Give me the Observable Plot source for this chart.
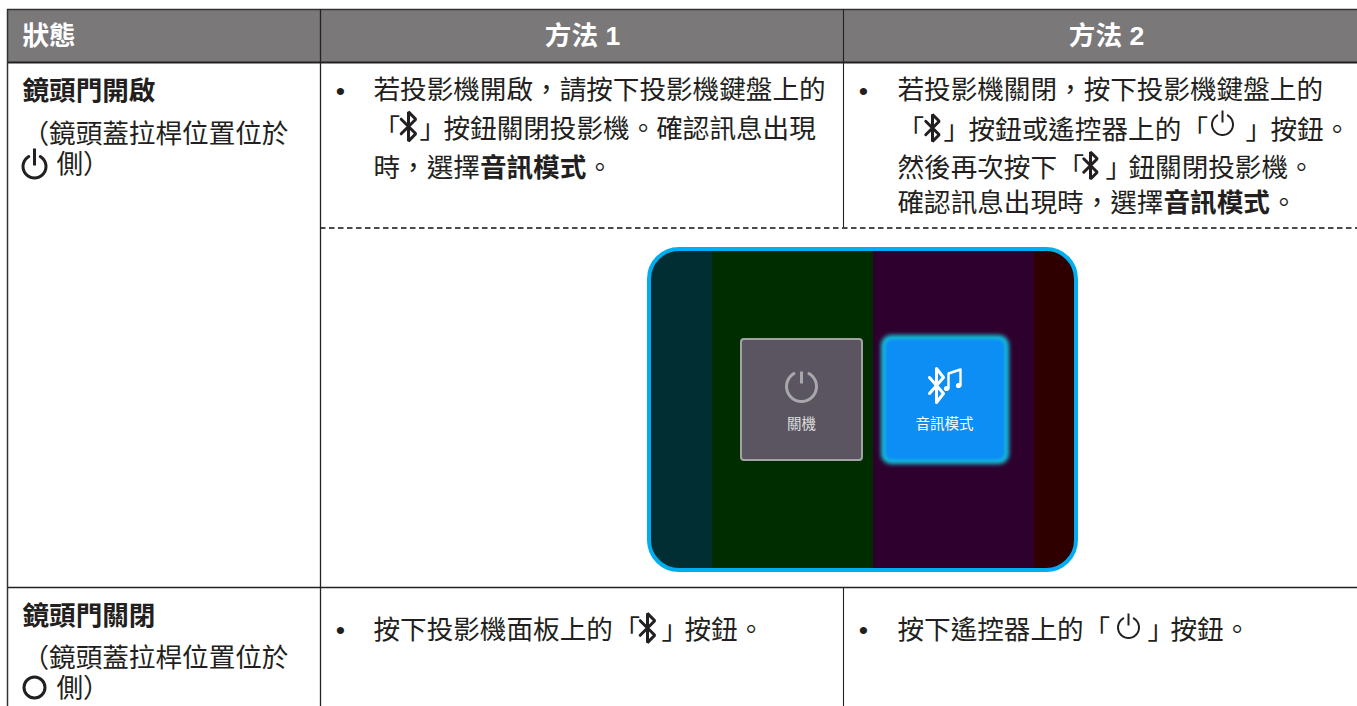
<!DOCTYPE html>
<html lang="zh-TW">
<head>
<meta charset="utf-8">
<style>html,body{margin:0;padding:0;background:#fff;overflow:hidden}svg{display:block}</style>
<script src="https://cdn.jsdelivr.net/npm/d3@7"></script>
<script src="https://cdn.jsdelivr.net/npm/@observablehq/plot@0.6"></script>
</head>
<body>
<script>
// ---- content ----
const headerLabels = ["狀態", "方法 1", "方法 2"];
const rowTitles = ["鏡頭門開啟", "鏡頭門關閉"];
const rowNote = ["（鏡頭蓋拉桿位置位於", "側）"];
const method1Open = ["若投影機開啟，請按下投影機鍵盤上的", "「", "」", "按鈕關閉投影機。確認訊息出現", "時，選擇", "音訊模式", "。"];
const method2Open = ["若投影機關閉，按下投影機鍵盤上的", "「", "」", "按鈕或遙控器上的", "「", "」", "按鈕。", "然後再次按下", "「", "」", "鈕關閉投影機。", "確認訊息出現時，選擇", "音訊模式", "。"];
const method1Closed = ["按下投影機面板上的", "「", "」", "按鈕。"];
const method2Closed = ["按下遙控器上的", "「", "」", "按鈕。"];
const buttonLabels = ["關機", "音訊模式"];
const boldTexts = ["音訊模式"];
const bulletMark = "•";
const screenColors = ["#012e33", "#002d00", "#2e002e", "#2e0000"];

// ---- layout (page pixels; separate from the content) ----
const W = 1357, H = 706, FS = 26.6;
const headerAt = [[22, 36, "start"], [582, 36, "middle"], [1106, 36, "middle"]];
const titleAt = [[22, 91], [22, 616]];
const noteAt = [[[22, 134], [56, 164]], [[22, 658], [56, 688]]];
const m1OpenAt = [[373, 90], [373, 129], [419, 129], [443, 129], [373, 167.5], [479.4, 167.5], [586, 167.5]];
const m2OpenAt = [[897, 90], [897, 130], [943, 130], [968, 130], [1181, 130], [1245, 130], [1270, 130], [897, 168], [1057, 168], [1105, 168], [1128, 168], [897, 203], [1163, 203], [1270, 203]];
const m1ClosedAt = [[373, 630], [613, 630], [661, 630], [684, 630]];
const m2ClosedAt = [[897, 630], [1083, 630], [1147, 630], [1170, 630]];
const bulletAt = [[340, 91], [863, 91], [340, 630], [863, 630]];

const FONT = "'Noto Sans CJK TC',sans-serif";
const HEAD_FONT = "'Liberation Sans','Noto Sans CJK TC',sans-serif";
const INK = "#231f20";

const placed = (texts, at, color = INK) =>
  texts.map((t, i) => ({t, x: at[i][0], y: at[i][1], a: at[i][2] ?? "start", color, w: boldTexts.includes(t) ? "bold" : "normal"}));

const cellRuns = [
  ...placed(rowNote, noteAt[0]), ...placed(rowNote, noteAt[1]),
  ...placed(method1Open, m1OpenAt), ...placed(method2Open, m2OpenAt),
  ...placed(method1Closed, m1ClosedAt), ...placed(method2Closed, m2ClosedAt)
];

// icon outlines in unit coordinates
const btShape = [[-0.27, -0.27], [0.27, 0.27], [0, 0.54], [0, -0.54], [0.27, -0.27], [-0.27, 0.27]];
const btIcons = [[408, 126, 27], [932, 127.5, 25], [1090, 165, 25], [647, 627.5, 27]];
const powerIcons = [
  {cx: 34, cy: 166, r: 11.5, top: 148, end: 165, sw: 3, c: INK},
  {cx: 1222, cy: 124, r: 10.5, top: 110, end: 122, sw: 2, c: INK},
  {cx: 1128, cy: 627, r: 10.5, top: 613, end: 625, sw: 2, c: INK},
  {cx: 801, cy: 386, r: 15, top: 371, end: 383, sw: 3, c: "#a8a8ac"}
];
const arcGap = d3.range(30, 331, 10).map(a => [Math.sin(a * Math.PI / 180), -Math.cos(a * Math.PI / 180)]);
const btLines = btIcons.flatMap(([cx, cy, s], k) => btShape.map(([u, v]) => ({k, x: cx + u * s, y: cy + v * s})));
const arcs = powerIcons.flatMap((p, k) => arcGap.map(([u, v]) => ({k, x: p.cx + u * p.r, y: p.cy + v * p.r, sw: p.sw, c: p.c})));

const plot = Plot.plot({
  width: W, height: H,
  margin: 0,
  x: {domain: [0, W], range: [0, W], axis: null},
  y: {domain: [0, H], range: [0, H], axis: null},
  marks: [
    // header band
    Plot.rect([0], {x1: 7, x2: W, y1: 9, y2: 62, fill: "#7a7879"}),
    // picture
    Plot.rect([0], {x1: 649, x2: 740, y1: 249, y2: 570, r: 30, fill: screenColors[0]}),
    Plot.rect([0], {x1: 985, x2: 1076, y1: 249, y2: 570, r: 30, fill: screenColors[3]}),
    Plot.rect([0], {x1: 712, x2: 873, y1: 249, y2: 570, fill: screenColors[1]}),
    Plot.rect([0], {x1: 873, x2: 1034, y1: 249, y2: 570, fill: screenColors[2]}),
    Plot.rect([0], {x1: 649, x2: 1076, y1: 249, y2: 570, r: 30, fill: "none", stroke: "#00aeef", strokeWidth: 4}),
    Plot.rect([0], {x1: 741, x2: 862, y1: 339, y2: 460, r: 3, fill: "#5a5560", stroke: "#a3a3a3", strokeWidth: 2}),
    Plot.rect([0], {x1: 881, x2: 1009, y1: 335, y2: 464, r: 10, fill: "#14c4dc", imageFilter: "blur(2px)"}),
    Plot.rect([0], {x1: 885, x2: 1005, y1: 339, y2: 460, r: 7, fill: "#0c8ef5", imageFilter: "blur(1.5px)"}),
    Plot.text(buttonLabels, {x: [801, 944], y: [424, 424], text: d => d, fontFamily: FONT, fontSize: 14.5, fill: "#ddd", filter: d => d === buttonLabels[0]}),
    Plot.text(buttonLabels, {x: [801, 944], y: [424, 424], text: d => d, fontFamily: FONT, fontSize: 14.5, fill: "#fff", filter: d => d === buttonLabels[1]}),
    // bluetooth + note on the blue button
    Plot.line([[929, 377], [943, 393], [936, 402], [936, 368], [943, 377], [929, 393]], {x: d => d[0], y: d => d[1], stroke: "#fff", strokeWidth: 3, fill: "none", imageFilter: "blur(0.5px)"}),
    Plot.line([[948, 388], [948, 373], [960, 369], [960, 385]], {x: d => d[0], y: d => d[1], stroke: "#fff", strokeWidth: 2.4, imageFilter: "blur(0.4px)"}),
    Plot.dot([[946, 388], [958, 385]], {x: d => d[0], y: d => d[1], r: 2.6, fill: "#fff"}),
    // rules
    Plot.ruleY([9], {x1: 7, x2: W, stroke: "#333", strokeWidth: 1.5}),
    Plot.ruleY([62], {x1: 7, x2: W, stroke: "#222", strokeWidth: 2}),
    Plot.ruleY([587], {x1: 7, x2: W, stroke: "#222", strokeWidth: 1.5}),
    Plot.ruleY([227.5], {x1: 320, x2: W, stroke: "#111", strokeWidth: 1.5, strokeDasharray: "5.5,3.5"}),
    Plot.ruleX([7], {y1: 9, y2: H, stroke: "#333", strokeWidth: 1.5}),
    Plot.ruleX([320], {y1: 9, y2: H, stroke: "#222", strokeWidth: 1.3}),
    Plot.ruleX([843], {y1: 9, y2: 227, stroke: "#222", strokeWidth: 1.1}),
    Plot.ruleX([843], {y1: 587, y2: H, stroke: "#222", strokeWidth: 1.1}),
    // header text
    Plot.text(placed(headerLabels, headerAt, "#fff"), {x: "x", y: "y", text: "t", textAnchor: "start", filter: d => d.a === "start", fontFamily: HEAD_FONT, fontSize: FS, fontWeight: "bold", fill: "#fff"}),
    Plot.text(placed(headerLabels, headerAt, "#fff"), {x: "x", y: "y", text: "t", textAnchor: "middle", filter: d => d.a === "middle", fontFamily: HEAD_FONT, fontSize: FS, fontWeight: "bold", fill: "#fff"}),
    // row titles
    Plot.text(placed(rowTitles, titleAt), {x: "x", y: "y", text: "t", textAnchor: "start", fontFamily: FONT, fontSize: FS, fontWeight: "bold", fill: INK}),
    // cell text
    Plot.text(cellRuns, {x: "x", y: "y", text: "t", textAnchor: "start", filter: d => d.w === "normal", fontFamily: FONT, fontSize: FS, fill: INK}),
    Plot.text(cellRuns, {x: "x", y: "y", text: "t", textAnchor: "start", filter: d => d.w === "bold", fontFamily: FONT, fontSize: FS, fontWeight: "bold", fill: INK}),
    Plot.text(bulletAt, {x: d => d[0], y: d => d[1], text: () => bulletMark, fontFamily: HEAD_FONT, fontSize: FS, fill: INK}),
    // inline icons
    Plot.line(btLines, {x: "x", y: "y", z: "k", stroke: INK, strokeWidth: 3, fill: "none", strokeLinejoin: "miter"}),
    Plot.line(arcs, {x: "x", y: "y", z: "k", stroke: "c", strokeWidth: d => d.sw, fill: "none"}),
    Plot.link(powerIcons, {x1: "cx", x2: "cx", y1: "top", y2: "end", stroke: "c", strokeWidth: d => d.sw}),
    Plot.dot([[34, 687]], {x: d => d[0], y: d => d[1], r: 10.5, stroke: INK, strokeWidth: 3, fill: "none"})
  ]
});
document.body.appendChild(plot);
</script>
</body>
</html>
